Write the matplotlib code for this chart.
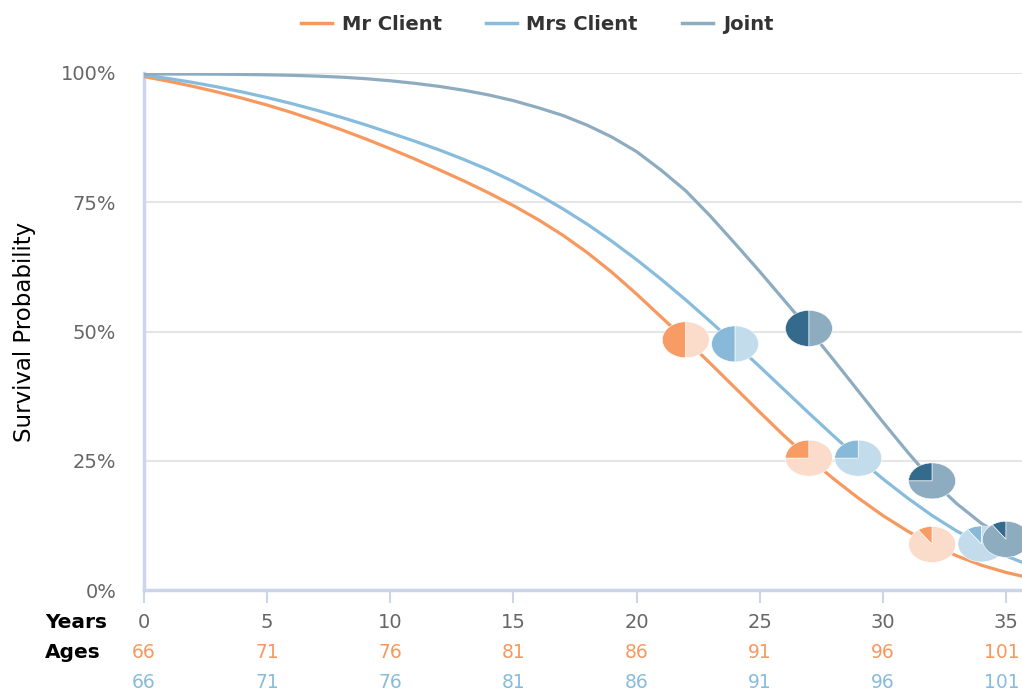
import matplotlib
matplotlib.use('Agg')
import matplotlib.pyplot as plt
import matplotlib.transforms as mtransforms
from matplotlib.patches import Wedge
from matplotlib.lines import Line2D

# ---------------- data ----------------
years = list(range(0, 37))
mr_client = [99.3, 98.4, 97.4, 96.3, 95.1, 93.8, 92.35, 90.75, 89.05, 87.25,
             85.35, 83.35, 81.25, 79.1, 76.8, 74.35, 71.65, 68.65, 65.25, 61.45,
             57.25, 52.8, 48.4, 43.8, 39.1, 34.4, 29.8, 25.5, 21.5, 17.8,
             14.4, 11.4, 8.8, 6.6, 4.8, 3.4, 2.3]
mrs_client = [99.6, 98.93, 98.16, 97.29, 96.32, 95.25, 94.08, 92.81, 91.44, 89.97,
              88.4, 86.8, 85.1, 83.25, 81.25, 79.0, 76.5, 73.75, 70.75, 67.45,
              63.9, 60.1, 56.1, 51.9, 47.6, 43.2, 38.7, 34.2, 29.8, 25.5,
              21.5, 17.8, 14.4, 11.4, 8.9, 6.6, 4.7]
joint = [99.8, 99.8, 99.8, 99.77, 99.72, 99.65, 99.55, 99.4, 99.2, 98.9,
         98.5, 98.0, 97.4, 96.65, 95.75, 94.65, 93.3, 91.8, 89.9, 87.6,
         84.8, 81.2, 77.2, 72.3, 67.0, 61.6, 56.0, 50.4, 44.5, 38.5,
         32.5, 26.7, 21.2, 16.7, 12.9, 9.8, 7.4]

# pie markers: year, survival %, filled fraction
mr_pie_years = [22, 27, 32]
mr_pie_vals = [48.4, 25.5, 8.8]
mr_pie_frac = [0.5, 0.25, 0.1]
mrs_pie_years = [24, 29, 34]
mrs_pie_vals = [47.6, 25.5, 8.9]
mrs_pie_frac = [0.5, 0.25, 0.1]
joint_pie_years = [27, 32, 35]
joint_pie_vals = [50.6, 21.1, 9.8]
joint_pie_frac = [0.5, 0.25, 0.1]

year_ticks = [0, 5, 10, 15, 20, 25, 30, 35]
mr_ages = [66, 71, 76, 81, 86, 91, 96, 101]
mrs_ages = [66, 71, 76, 81, 86, 91, 96, 101]
y_ticks = [0, 25, 50, 75, 100]
y_labels = ['0%', '25%', '50%', '75%', '100%']

# ---------------- style ----------------
plt.rcParams['font.family'] = ['DejaVu Sans']
W, H = 1022, 690
fig = plt.figure(figsize=(W / 100, H / 100), dpi=100)
ax = fig.add_axes([144 / W, (H - 590) / H, (W - 144) / W, (590 - 73) / H])

c_mr, c_mrs, c_joint = '#f7995f', '#88bcdc', '#8eacc0'
pie_cols = {
    'mr': ('#f69c64', '#fbdcca'),
    'mrs': ('#88b9d8', '#c3dcec'),
    'joint': ('#346a8c', '#8eacc0'),
}

ax.plot(years, mr_client, color=c_mr, lw=2.3, zorder=3, solid_capstyle='round')
ax.plot(years, mrs_client, color=c_mrs, lw=2.3, zorder=3, solid_capstyle='round')
ax.plot(years, joint, color=c_joint, lw=2.3, zorder=3, solid_capstyle='round')

ax.set_xlim(0, 35.65)
ax.set_ylim(0, 100)

ax.set_yticks(y_ticks)
ax.set_yticklabels(y_labels)
ax.grid(axis='y', color='#e6e6e6', lw=1.5, zorder=0)
ax.set_axisbelow(True)
ax.tick_params(axis='y', length=0, pad=20, labelsize=14, labelcolor='#666666')

ax.set_xticks(year_ticks)
ax.set_xticklabels([])
ax.tick_params(axis='x', length=9, width=1.5, color='#ccd6eb', direction='out')

for s in ['top', 'right']:
    ax.spines[s].set_visible(False)
for s in ['left', 'bottom']:
    ax.spines[s].set_color('#ccd6eb')
    ax.spines[s].set_linewidth(2.5)

# pies
rx, ry = 23.5, 18.0
def draw_pies(xs, ys, fracs, key):
    dark, light = pie_cols[key]
    for x, y, f in zip(xs, ys, fracs):
        tr = mtransforms.Affine2D().scale(rx, ry) + mtransforms.ScaledTranslation(x, y, ax.transData)
        a1 = 90 + 360 * f
        w1 = Wedge((0, 0), 1, 90, a1, facecolor=dark, edgecolor='white', lw=0.4, transform=tr, zorder=5)
        w2 = Wedge((0, 0), 1, a1, 450, facecolor=light, edgecolor='white', lw=0.4, transform=tr, zorder=5)
        for w in (w1, w2):
            w.set_clip_path(ax.patch)
            ax.add_patch(w)

draw_pies(mr_pie_years, mr_pie_vals, mr_pie_frac, 'mr')
draw_pies(mrs_pie_years, mrs_pie_vals, mrs_pie_frac, 'mrs')
draw_pies(joint_pie_years, joint_pie_vals, joint_pie_frac, 'joint')

# x labels rows
base = mtransforms.blended_transform_factory(ax.transData, ax.transAxes)
n = len(year_ticks)
for i, (yv, a1, a2) in enumerate(zip(year_ticks, mr_ages, mrs_ages)):
    dx = -4 if i == n - 1 else 0
    t1 = mtransforms.offset_copy(base, fig=fig, x=0, y=-32, units='dots')
    t2 = mtransforms.offset_copy(base, fig=fig, x=dx, y=-62, units='dots')
    t3 = mtransforms.offset_copy(base, fig=fig, x=dx, y=-92, units='dots')
    ax.text(yv, 0, str(yv), transform=t1, ha='center', va='center', fontsize=14, color='#666666', clip_on=False)
    ax.text(yv, 0, str(a1), transform=t2, ha='center', va='center', fontsize=13.5, color='#f7995f', clip_on=False)
    ax.text(yv, 0, str(a2), transform=t3, ha='center', va='center', fontsize=13.5, color='#88bcdc', clip_on=False)

fig.text(45 / W, 1 - 622 / H, 'Years', ha='left', va='center', fontsize=14.5, color='black', fontweight='bold')
fig.text(45 / W, 1 - 652 / H, 'Ages', ha='left', va='center', fontsize=14.5, color='black', fontweight='bold')

fig.text(25 / W, 1 - 332 / H, 'Survival Probability', rotation=90, ha='center', va='center', fontsize=16.5, color='black')

handles = [Line2D([], [], color=c_mr, lw=2.5),
           Line2D([], [], color=c_mrs, lw=2.5),
           Line2D([], [], color=c_joint, lw=2.5)]
fig.legend(handles, ['Mr Client', 'Mrs Client', 'Joint'], loc='center', bbox_to_anchor=(537 / W, 1 - 24 / H),
           ncol=3, frameon=False, handlelength=1.6, handletextpad=0.5, columnspacing=2.26,
           prop={'size': 14, 'weight': 'bold'}, labelcolor='#333333')

fig.savefig('out.png', dpi=100)
